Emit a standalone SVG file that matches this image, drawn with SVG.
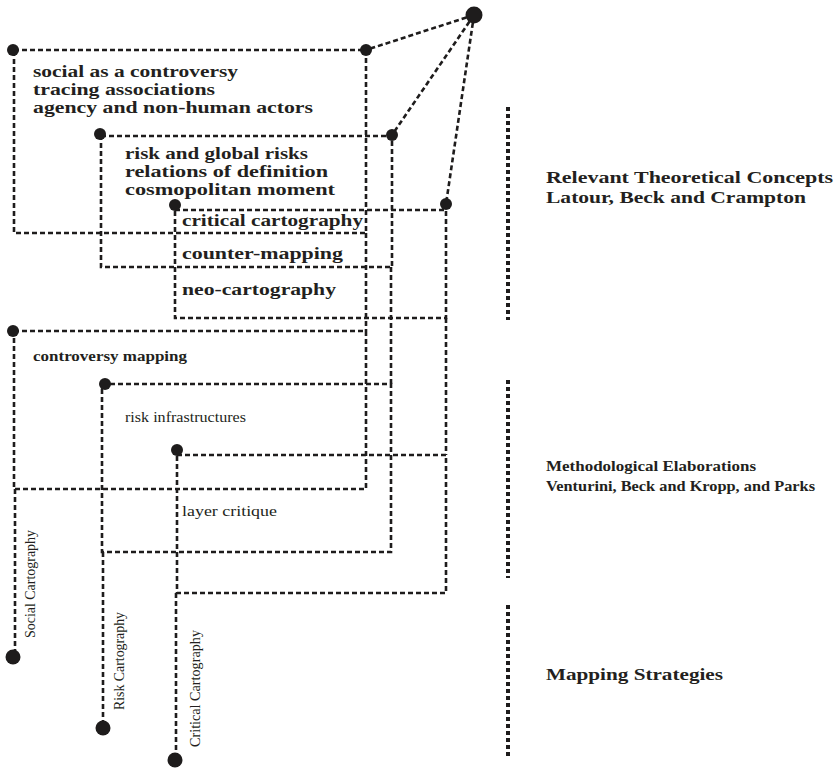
<svg xmlns="http://www.w3.org/2000/svg" width="836" height="771" viewBox="0 0 836 771">
<style>
.ln{fill:none;stroke:#1e1c1c;stroke-width:2.6;stroke-dasharray:5 3}
.bar{fill:none;stroke:#1e1c1c;stroke-width:4;stroke-dasharray:4 3}
.dot{fill:#1e1c1c}
.t{font-family:"Liberation Serif","Times New Roman",serif;fill:#231f20}
.b{font-weight:bold;font-size:16.2px}
.m{font-weight:bold;font-size:15.5px}
.s{font-size:15.5px}
.r{font-weight:bold;font-size:17.5px}
.e{font-weight:bold;font-size:15.5px}
.v{font-size:14px}
</style>
<rect width="836" height="771" fill="#fff"/>
<g id="connectors">
<path class="ln" d="M474,15 L366,50"/>
<path class="ln" d="M474,15 L392,135"/>
<path class="ln" d="M474,15 L446,204"/>
<path class="ln" d="M366,233 V331"/>
<path class="ln" d="M15,489 V656"/>
<path class="ln" d="M391,267 V384"/>
<path class="ln" d="M103,552 V728"/>
<path class="ln" d="M446,318 V455"/>
<path class="ln" d="M176,593 V760"/>
</g>
<g id="hub"><circle class="dot" cx="474" cy="15" r="8.5"/></g>
<g id="social-theory">
<path class="ln" d="M14,50 H366 V233 H14 Z"/>
<circle class="dot" cx="13" cy="50" r="6"/><circle class="dot" cx="366" cy="50" r="6"/>
<text class="t b" x="33" y="77" textLength="205" lengthAdjust="spacingAndGlyphs">social as a controversy</text>
<text class="t b" x="33" y="95" textLength="182" lengthAdjust="spacingAndGlyphs">tracing associations</text>
<text class="t b" x="33" y="113" textLength="280" lengthAdjust="spacingAndGlyphs">agency and non-human actors</text>
</g>
<g id="risk-theory">
<path class="ln" d="M101,136 H392 V267 H101 Z"/>
<circle class="dot" cx="100" cy="134" r="6"/><circle class="dot" cx="392" cy="135" r="6"/>
<text class="t b" x="125" y="159" textLength="183" lengthAdjust="spacingAndGlyphs">risk and global risks</text>
<text class="t b" x="125" y="177" textLength="203" lengthAdjust="spacingAndGlyphs">relations of definition</text>
<text class="t b" x="125" y="195" textLength="210" lengthAdjust="spacingAndGlyphs">cosmopolitan moment</text>
</g>
<g id="critical-theory">
<path class="ln" d="M175,210 H446 V318 H175 Z"/>
<circle class="dot" cx="175" cy="205" r="6"/><circle class="dot" cx="446" cy="204" r="6"/>
<text class="t b" x="182" y="226" textLength="181" lengthAdjust="spacingAndGlyphs">critical cartography</text>
<text class="t b" x="182" y="259" textLength="161" lengthAdjust="spacingAndGlyphs">counter-mapping</text>
<text class="t b" x="182" y="295" textLength="154" lengthAdjust="spacingAndGlyphs">neo-cartography</text>
</g>
<g id="controversy-mapping">
<path class="ln" d="M14,331 H366 V489 H14 Z"/>
<circle class="dot" cx="13" cy="331" r="6"/>
<text class="t m" x="33" y="361" textLength="154" lengthAdjust="spacingAndGlyphs">controversy mapping</text>
</g>
<g id="risk-infrastructures">
<path class="ln" d="M102,384 H391 V552 H102 Z"/>
<circle class="dot" cx="105" cy="384" r="6"/>
<text class="t s" x="125" y="422" textLength="121" lengthAdjust="spacingAndGlyphs">risk infrastructures</text>
</g>
<g id="layer-critique">
<path class="ln" d="M177,455 H446 V593 H177 Z"/>
<circle class="dot" cx="177" cy="450" r="6"/>
<text class="t s" x="182" y="516" textLength="95" lengthAdjust="spacingAndGlyphs">layer critique</text>
</g>
<g id="social-cartography">
<circle class="dot" cx="13" cy="657" r="7.5"/>
<text class="t v" transform="translate(35,638) rotate(-90)" textLength="108" lengthAdjust="spacingAndGlyphs">Social Cartography</text>
</g>
<g id="risk-cartography">
<circle class="dot" cx="103" cy="728" r="7.5"/>
<text class="t v" transform="translate(124,710) rotate(-90)" textLength="98" lengthAdjust="spacingAndGlyphs">Risk Cartography</text>
</g>
<g id="critical-cartography">
<circle class="dot" cx="175" cy="760" r="7.5"/>
<text class="t v" transform="translate(200,747) rotate(-90)" textLength="117" lengthAdjust="spacingAndGlyphs">Critical Cartography</text>
</g>
<g id="level-theory">
<path class="bar" d="M508,107 V320"/>
<text class="t r" x="546" y="183" textLength="287" lengthAdjust="spacingAndGlyphs">Relevant Theoretical Concepts</text>
<text class="t r" x="546" y="203" textLength="260" lengthAdjust="spacingAndGlyphs">Latour, Beck and Crampton</text>
</g>
<g id="level-methods">
<path class="bar" d="M508,380 V578"/>
<text class="t e" x="546" y="471" textLength="210" lengthAdjust="spacingAndGlyphs">Methodological Elaborations</text>
<text class="t e" x="546" y="491" textLength="269" lengthAdjust="spacingAndGlyphs">Venturini, Beck and Kropp, and Parks</text>
</g>
<g id="level-strategies">
<path class="bar" d="M508,605 V758"/>
<text class="t r" x="546" y="680" textLength="177" lengthAdjust="spacingAndGlyphs">Mapping Strategies</text>
</g>
</svg>
